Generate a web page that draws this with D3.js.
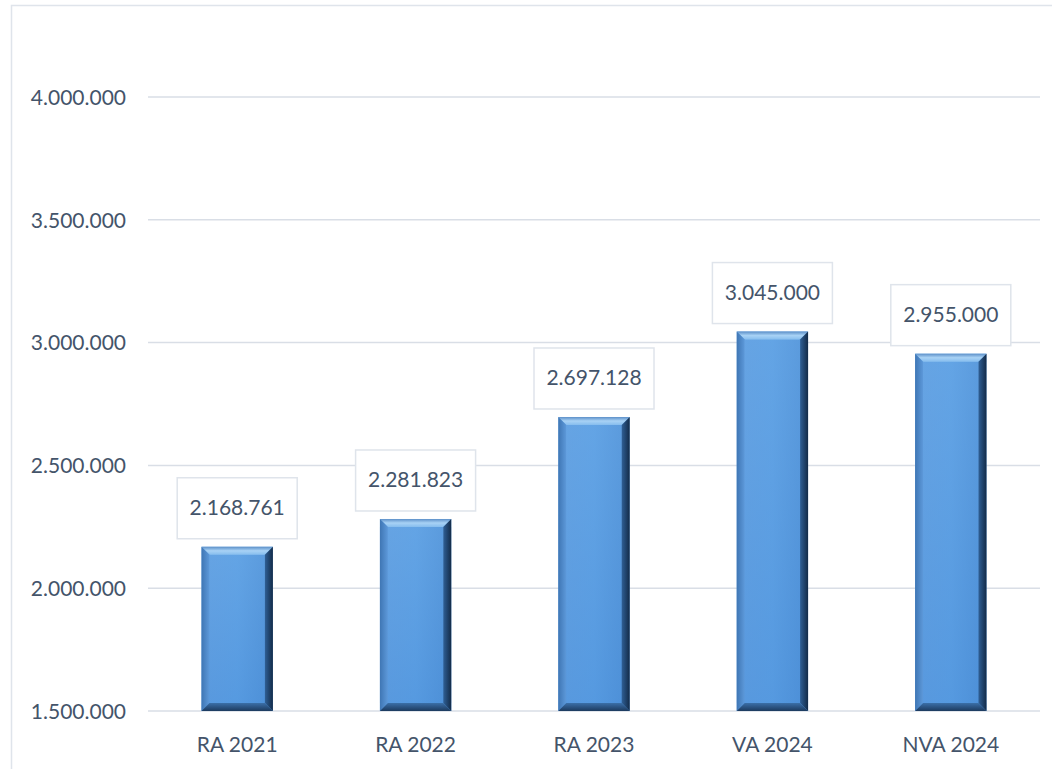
<!DOCTYPE html>
<html><head><meta charset="utf-8">
<script src="https://cdn.jsdelivr.net/npm/d3@7"></script>
<style>body{margin:0;background:#fff}svg{display:block}</style>
</head><body>
<svg id="c" width="1052" height="769"></svg>
<script>
const categories = ["RA 2021","RA 2022","RA 2023","VA 2024","NVA 2024"];
const values = [2168761, 2281823, 2697128, 3045000, 2955000];
const yTicks = [1500000, 2000000, 2500000, 3000000, 3500000, 4000000];

const fmt = v => d3.format(",")(v).replace(/,/g, ".");
const svg = d3.select("#c");
const font = "Lato, 'Open Sans', sans-serif";
const textCol = "#44546a";

// outer frame
svg.append("rect").attr("x",11.5).attr("y",5.5).attr("width",1060).attr("height",800)
  .attr("fill","none").attr("stroke","#dfe4eb").attr("stroke-width",1.5);

const x = d3.scaleBand().domain(categories).range([148, 1040]).paddingInner(0.6).paddingOuter(0.3);
const y = d3.scaleLinear().domain([1500000, 4000000]).range([711, 97]);

// gridlines
svg.append("g").selectAll("line").data(yTicks).join("line")
  .attr("x1",148).attr("x2",1040).attr("y1",d=>y(d)).attr("y2",d=>y(d))
  .attr("stroke","#d9dee6").attr("stroke-width",1.5);

// y labels
const yAxis = d3.axisLeft(y).tickValues(yTicks).tickFormat(fmt).tickSize(0).tickPadding(0);
const ga = svg.append("g").attr("transform","translate(126,0)").call(yAxis);
ga.select(".domain").remove();
ga.selectAll("text").attr("font-family",font).attr("font-size",21).attr("fill",textCol).attr("dy","0.35em");

// x labels
const xAxis = d3.axisBottom(x).tickSize(0).tickPadding(0);
const gx = svg.append("g").attr("transform","translate(0,745)").call(xAxis);
gx.select(".domain").remove();
gx.selectAll("text").attr("font-family",font).attr("font-size",21).attr("fill",textCol).attr("dy","0.35em");

// gradients
const defs = svg.append("defs");
function lg(id, x1,y1,x2,y2, stops){
  const g = defs.append("linearGradient").attr("id",id).attr("x1",x1).attr("y1",y1).attr("x2",x2).attr("y2",y2);
  stops.forEach(s=>g.append("stop").attr("offset",s[0]).attr("stop-color",s[1]));
}
lg("face","0","0","1","0",[[0,"#5e9de0"],[0.5,"#5a9ee3"],[1,"#4d8fd6"]]);
lg("faceV","0","0","0","1",[[0,"#72aee8"],[1,"#4e92db"]]);
lg("top","0","0","0","1",[[0,"#5c8fc8"],[0.5,"#a8d2f5"],[1,"#86bdee"]]);
lg("left","0","0","1","0",[[0,"#3f76b4"],[1,"#5d99da"]]);
lg("right","0","0","1","0",[[0,"#2f5f95"],[1,"#132b48"]]);
lg("bottom","0","0","0","1",[[0,"#3b6fa8"],[1,"#1c3a5e"]]);

const bars = svg.append("g").selectAll("g").data(values.map((v,i)=>({c:categories[i],v}))).join("g");
const b = 8;
bars.each(function(d){
  const g = d3.select(this);
  const x0 = x(d.c), x1 = x0 + x.bandwidth(), y0 = y(d.v), y1 = y(1500000);
  const P = pts => pts.map(p=>p.join(",")).join(" ");
  g.append("rect").attr("x",x0).attr("y",y0).attr("width",x1-x0).attr("height",y1-y0).attr("fill","url(#faceV)");
  g.append("rect").attr("x",x0+b).attr("y",y0+b).attr("width",x1-x0-2*b).attr("height",y1-y0-2*b).attr("fill","url(#face)").attr("opacity",0.6);
  g.append("polygon").attr("points",P([[x0,y0],[x1,y0],[x1-b,y0+b],[x0+b,y0+b]])).attr("fill","url(#top)");
  g.append("polygon").attr("points",P([[x0,y0],[x0+b,y0+b],[x0+b,y1-b],[x0,y1]])).attr("fill","url(#left)");
  g.append("polygon").attr("points",P([[x1,y0],[x1,y1],[x1-b,y1-b],[x1-b,y0+b]])).attr("fill","url(#right)");
  g.append("polygon").attr("points",P([[x0,y1],[x1,y1],[x1-b,y1-b],[x0+b,y1-b]])).attr("fill","url(#bottom)");
});

// value labels
const lab = svg.append("g").selectAll("g").data(values.map((v,i)=>({c:categories[i],v}))).join("g")
  .attr("transform",d=>`translate(${x(d.c)+x.bandwidth()/2},${y(d.v)-39})`);
lab.append("rect").attr("x",-60).attr("y",-30).attr("width",120).attr("height",61)
  .attr("fill","#fff").attr("stroke","#dfe4eb").attr("stroke-width",1.5);
lab.append("text").attr("text-anchor","middle").attr("dy","0.35em")
  .attr("font-family",font).attr("font-size",21).attr("fill",textCol).text(d=>fmt(d.v));
</script>
</body></html>
